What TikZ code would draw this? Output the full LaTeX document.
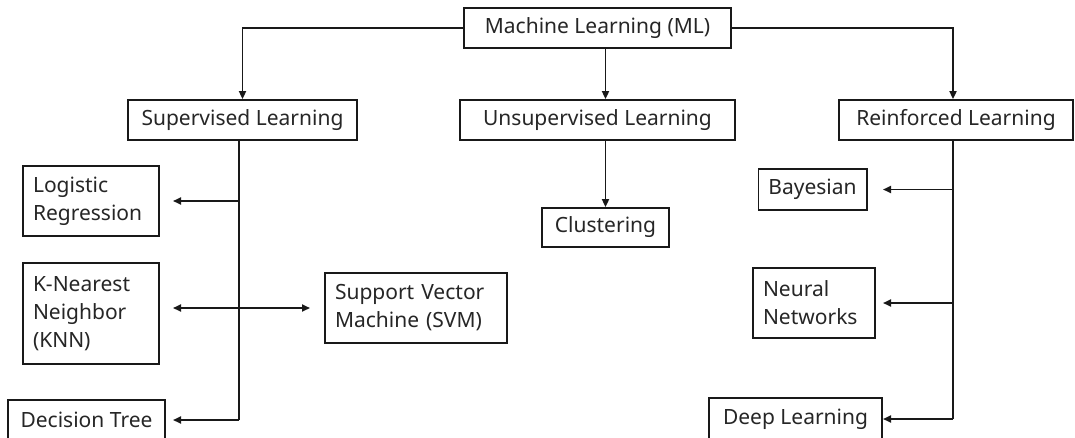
\documentclass[tikz,border=0pt]{standalone}
\usepackage{fontspec}
\setmainfont{Noto Sans}
\usetikzlibrary{arrows.meta,calc}
\begin{document}
\begin{tikzpicture}[x=1pt,y=-1pt,
  box/.style={draw=black!90, line width=1.8pt, inner xsep=10pt, inner ysep=0pt,
    font=\fontsize{21}{28}\selectfont, text=black!85},
  mbox/.style={box, align=left},
  spine/.style={line width=1.8pt, draw=black!90},
  conn/.style={spine, -{Triangle[length=8pt,width=7pt]}},
  conn2/.style={spine, {Triangle[length=8pt,width=7pt]}-{Triangle[length=8pt,width=7pt]}}]
\useasboundingbox (0,0) rectangle (1075,437);
\fill[white] (0,0) rectangle (1075,437);
% nodes
\node[box, minimum width=267pt, minimum height=40pt] (ml) at (597.5,28) {Machine Learning (ML)};
\node[box, minimum width=229pt, minimum height=40pt] (sup) at (242.5,120) {Supervised Learning};
\node[box, minimum width=275pt, minimum height=40pt] (uns) at (597.5,120) {Unsupervised Learning};
\node[box, minimum width=234pt, minimum height=40pt] (rei) at (956,120) {Reinforced Learning};
\node[box, minimum width=127pt, minimum height=39pt] (clu) at (605.5,227.5) {Clustering};
\node[mbox, text width=116pt, minimum height=70pt] (log) at (91,201) {Logistic\\Regression};
\node[mbox, text width=116pt, minimum height=101pt] (knn) at (91,313.5) {K-Nearest\\Neighbor\\(KNN)};
\node[mbox, text width=162pt, minimum height=70pt] (svm) at (416,308) {Support Vector\\Machine (SVM)};
\node[box, minimum width=157pt, minimum height=40pt] (dt) at (86.5,420) {Decision Tree};
\node[box, minimum width=105pt, minimum height=41pt] (bay) at (812.5,189.5) {Bayesian};
\node[mbox, text width=102pt, minimum height=70pt] (nn) at (814,303) {Neural\\Networks};
\node[box, minimum width=173pt, minimum height=42pt] (dl) at (795.5,419) {Deep Learning};
% helper coordinates
\coordinate (sx) at (239,0);
\coordinate (rx) at (953,0);
\coordinate (ltip) at (173,0);
\coordinate (rtip) at (883,0);
\coordinate (svmtip) at (310,0);
% top-level connectors
\draw[conn] (ml.west) -| (sup.north);
\draw[conn] (ml.south -| clu.north) -- (uns.north -| clu.north);
\draw[conn] (ml.east) -| (uns.north -| rx);
\draw[conn] (uns.south -| clu.north) -- (clu.north);
% supervised spine
\draw[spine] (sup.south -| sx) -- (sx |- dt.east);
\draw[conn] (sx |- dt.east) -- (ltip |- dt.east);
\draw[conn] (sx |- log.east) -- (ltip |- log.east);
\draw[conn2] (ltip |- svm.west) -- (svmtip |- svm.west);
% reinforced spine
\draw[spine] (rei.south -| rx) -- (rx |- dl.east);
\draw[conn] (rx |- dl.east) -- (rtip |- dl.east);
\draw[conn] (rx |- bay.east) -- (rtip |- bay.east);
\draw[conn] (rx |- nn.east) -- (rtip |- nn.east);
\end{tikzpicture}
\end{document}
